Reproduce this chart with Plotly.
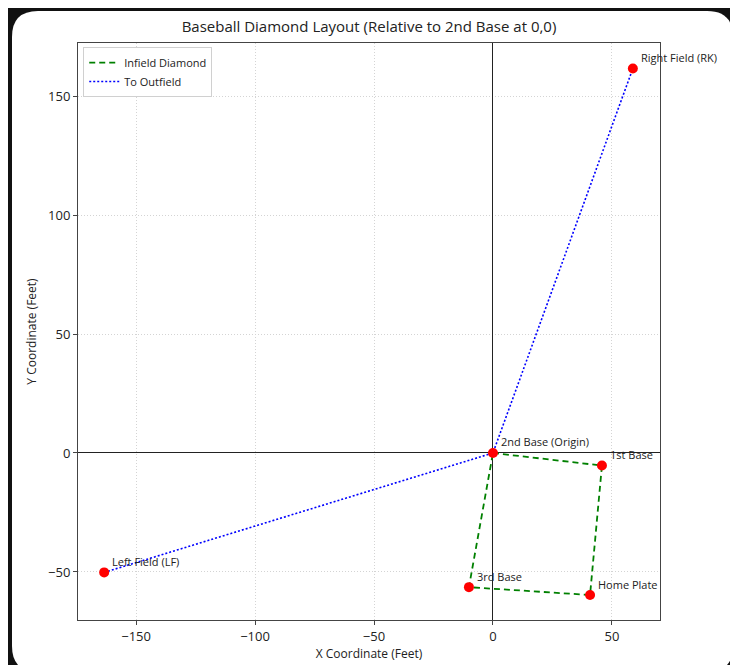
import plotly.graph_objects as go
import re

# Data
base_names = ["2nd Base (Origin)", "1st Base", "Home Plate", "3rd Base"]
base_x = [0.0, 45.8, 40.8, -10.1]
base_y = [0.0, -5.3, -59.7, -56.4]

field_names = ["Left Field (LF)", "Right Field (RK)"]
field_x = [-163.4, 58.8]
field_y = [-50.2, 161.6]

x_ticks = [-150, -100, -50, 0, 50]
y_ticks = [-50, 0, 50, 100, 150]

W, H = 730, 665
L, R, T, B = 78, 660, 43, 620
FONT = "Open Sans, Lato, sans-serif"

fig = go.Figure()

# Infield diamond: 2nd -> 1st -> Home -> 3rd -> 2nd
dx = base_x + [base_x[0]]
dy = base_y + [base_y[0]]
fig.add_trace(go.Scatter(x=dx, y=dy, mode="lines", name="Infield Diamond",
                         line=dict(color="#008000", width=1.8, dash="6px,4px")))

# Outfield lines: LF -> 2nd -> RF
ox = [field_x[0], base_x[0], field_x[1]]
oy = [field_y[0], base_y[0], field_y[1]]
fig.add_trace(go.Scatter(x=ox, y=oy, mode="lines", name="To Outfield",
                         line=dict(color="#0000ff", width=1.6, dash="2px,2px")))

# Points
px_all = base_x + field_x
py_all = base_y + field_y
names_all = base_names + field_names
fig.add_trace(go.Scatter(x=px_all, y=py_all, mode="markers", showlegend=False,
                         marker=dict(color="#ff0000", size=10)))

for n, x, y in zip(names_all, px_all, py_all):
    fig.add_annotation(x=x, y=y, text=n, showarrow=False, xanchor="left", yanchor="middle",
                       xshift=6, yshift=11, font=dict(size=11, color="#222", family=FONT))

def px2paper_x(p):
    return (p - L) / (R - L)

def px2paper_y(p):
    return (B - p) / (B - T)

# Dark frame and white rounded card background
fig.add_shape(type="rect", xref="paper", yref="paper", layer="below",
              x0=px2paper_x(8), x1=px2paper_x(735), y0=px2paper_y(670), y1=px2paper_y(8),
              fillcolor="#111111", line=dict(width=0))
x0, x1, y0, y1, r = 12, 733, 11, 672, 26
path = (f"M {x0+r},{y0} L {x1-r},{y0} Q {x1},{y0} {x1},{y0+r} L {x1},{y1-r} Q {x1},{y1} {x1-r},{y1} "
        f"L {x0+r},{y1} Q {x0},{y1} {x0},{y1-r} L {x0},{y0+r} Q {x0},{y0} {x0+r},{y0} Z")
def conv(m):
    a, b = float(m.group(1)), float(m.group(2))
    return f"{px2paper_x(a):.5f},{px2paper_y(b):.5f}"
path_p = re.sub(r"(-?\d+(?:\.\d+)?),(-?\d+(?:\.\d+)?)", conv, path)
fig.add_shape(type="path", xref="paper", yref="paper", layer="below", path=path_p,
              fillcolor="white", line=dict(width=0))

axis_common = dict(showline=True, linecolor="#444", linewidth=1, mirror=True,
                   ticks="outside", ticklen=4, tickcolor="#444",
                   showgrid=True, gridcolor="#d4d4d4", griddash="1px,2px", gridwidth=0.8,
                   zeroline=True, zerolinecolor="#222", zerolinewidth=0.9,
                   tickfont=dict(size=13, color="#222", family=FONT))

fig.update_xaxes(range=[-174.4, 70.2], tickvals=x_ticks, ticktext=["\u2212150", "\u2212100", "\u221250", "0", "50"],
                 title=dict(text="X Coordinate (Feet)", font=dict(size=12, color="#222", family=FONT), standoff=6),
                 **axis_common)
fig.update_yaxes(range=[-70.2, 172.3], tickvals=y_ticks, ticktext=["\u221250", "0", "50", "100", "150"],
                 title=dict(text="Y Coordinate (Feet)", font=dict(size=12, color="#222", family=FONT), standoff=8),
                 **axis_common)

fig.update_layout(
    width=W, height=H,
    margin=dict(l=L, r=W - R, t=T, b=H - B, autoexpand=False),
    paper_bgcolor="white", plot_bgcolor="rgba(0,0,0,0)",
    title=dict(text="Baseball Diamond Layout (Relative to 2nd Base at 0,0)", x=(L + R) / 2 / W, xanchor="center",
               y=1 - 27 / H, yanchor="middle", font=dict(size=15, color="#222", family=FONT)),
    legend=dict(x=0.009, y=0.993, xanchor="left", yanchor="top", bgcolor="white",
                bordercolor="#d0d0d0", borderwidth=1, font=dict(size=11, color="#222", family=FONT),
                itemwidth=30, tracegroupgap=0),
    showlegend=True,
)

fig.write_html("out.html", config={"displayModeBar": False},
               post_script="document.body.style.margin='0';document.body.style.padding='0';")
